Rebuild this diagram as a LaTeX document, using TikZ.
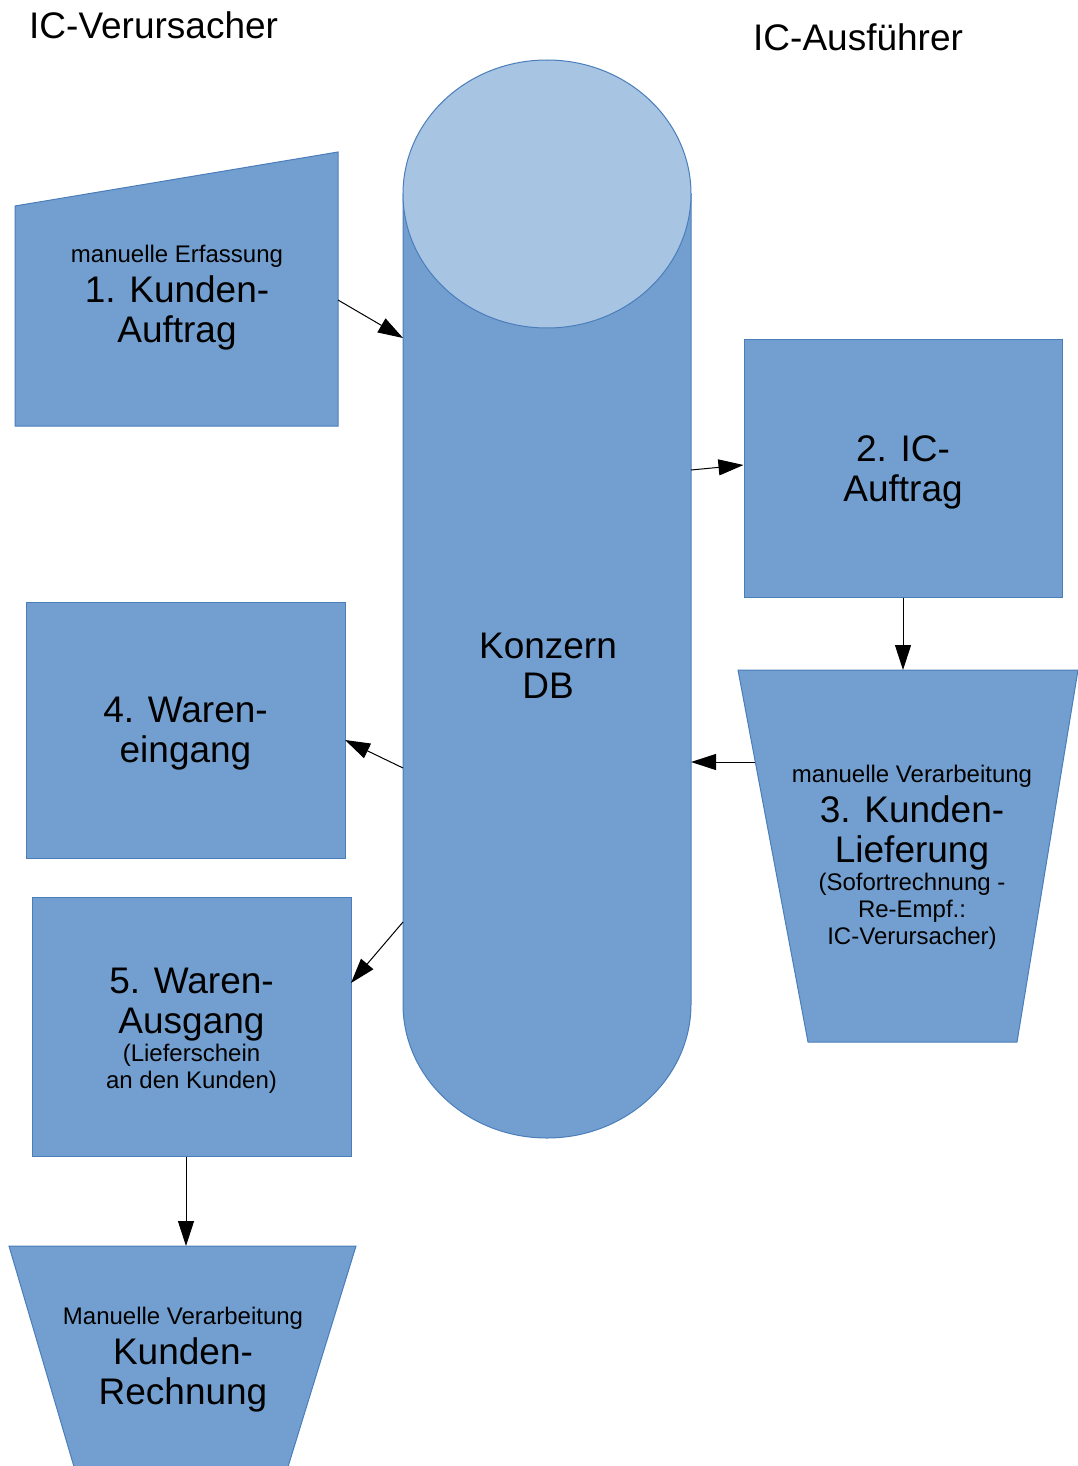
\documentclass[tikz,border=0pt]{standalone}
\usepackage{fontspec}
\setmainfont{Liberation Sans}
\usetikzlibrary{arrows.meta}
\definecolor{boxfill}{HTML}{729FCF}
\definecolor{boxline}{HTML}{4A7EBB}
\definecolor{capfill}{HTML}{A7C4E3}
\newcommand{\bigf}{\fontsize{37}{40}\selectfont}
\newcommand{\smallf}{\fontsize{24}{27}\selectfont}
\tikzset{
  shapebox/.style={fill=boxfill, draw=boxline, line width=1pt},
  rectbox/.style={shapebox, rectangle, inner sep=0pt, align=center, font=\bigf},
  txt/.style={align=center, font=\bigf, inner sep=0pt},
  arr/.style={draw=black, line width=1pt, -{Triangle[length=25pt,width=16pt]}},
}
\begin{document}
\begin{tikzpicture}[x=1pt,y=-1pt]
\useasboundingbox (0,0) rectangle (1078,1466);
% titles
\node[txt, anchor=west] (tleft) at (29,25) {IC-Verursacher};
\node[txt, anchor=west] (tright) at (753,37) {IC-Ausführer};
% cylinder
\filldraw[shapebox] (403,194) -- (403,1004) arc[start angle=180,end angle=360,x radius=144pt,y radius=134pt] -- (691,194) -- cycle;
\filldraw[fill=capfill, draw=boxline, line width=1pt] (547,194) ellipse[x radius=144pt, y radius=134pt];
\node[txt] (db) at (548,666) {Konzern\\DB};
% shape 1: manual input
\filldraw[shapebox] (15,206) -- (338,152) -- (338,426) -- (15,426) -- cycle;
\node[txt] (t1) at (177,298) {{\smallf manuelle Erfassung}\\1. Kunden-\\Auftrag};
% shape 2
\node[rectbox, minimum width=318pt, minimum height=258pt] (n2) at (903,468) {};
\node[txt] (t2) at (903,472) {2. IC-\\Auftrag};
% shape 3: manual operation
\filldraw[shapebox] (738,670) -- (1078,670) -- (1017,1042) -- (808,1042) -- cycle;
\node[txt] (t3) at (912,857) {{\smallf manuelle Verarbeitung}\\3. Kunden-\\Lieferung\\[-12pt]{\smallf (Sofortrechnung -}\\[-13pt]{\smallf Re-Empf.:}\\[-13pt]{\smallf IC-Verursacher)}};
% shape 4
\node[rectbox, minimum width=319pt, minimum height=256pt] (n4) at (185.5,730) {};
\node[txt] (t4) at (185.5,734) {4. Waren-\\eingang};
% shape 5
\node[rectbox, minimum width=319pt, minimum height=259pt] (n5) at (191.5,1026.5) {};
\node[txt] (t5) at (191.5,1031) {5. Waren-\\Ausgang\\[-12pt]{\smallf (Lieferschein}\\[-13pt]{\smallf an den Kunden)}};
% shape 6: manual operation
\filldraw[shapebox] (9,1246) -- (356,1246) -- (287,1470) -- (75,1470) -- cycle;
\node[txt] (t6) at (183,1360) {{\smallf Manuelle Verarbeitung}\\Kunden-\\Rechnung};
% connector ends
\coordinate (s1out) at (338,300);
\coordinate (cylA) at (403,338);
\coordinate (cylB) at (691,470);
\coordinate (s3top) at (903,670);
\coordinate (s3left) at (755,762);
\coordinate (cylC) at (691,762);
\coordinate (cylD) at (403,768);
\coordinate (n4in) at (345,740);
\coordinate (cylE) at (403,922);
\coordinate (n5in) at (351,983);
\coordinate (s6top) at (186,1246);
% connectors
\draw[arr] (s1out) -- (cylA);
\draw[arr] (cylB) -- (n2.west |- 0,465);
\draw[arr] (n2.south) -- (s3top);
\draw[arr] (s3left) -- (cylC);
\draw[arr] (cylD) -- (n4in);
\draw[arr] (cylE) -- (n5in);
\draw[arr] (n5.south -| s6top) -- (s6top);
\end{tikzpicture}
\end{document}
